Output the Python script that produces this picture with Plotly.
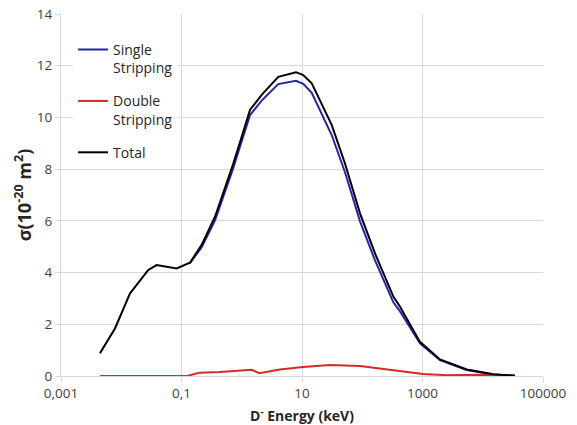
import plotly.graph_objects as go

# Total cross section (black)
total_energy = [0.00443, 0.00787, 0.014, 0.0205, 0.0281, 0.0387, 0.083, 0.138, 0.216, 0.36,
                0.494, 0.724, 0.998, 1.37, 2.14, 4.04, 7.94, 10.5, 14.5, 19.9, 31.1, 51.7,
                91.8, 163, 328, 424, 908, 1950, 5420, 15000, 34300]
total_sigma = [0.88, 1.84, 3.2, 3.71, 4.1, 4.29, 4.16, 4.38, 5.07, 6.16,
               7.06, 8.22, 9.25, 10.29, 10.87, 11.57, 11.75, 11.64, 11.32, 10.67, 9.71, 8.22,
               6.29, 4.74, 3.07, 2.68, 1.32, 0.64, 0.25, 0.07, 0.01]

# Single stripping (blue)
single_energy = [0.138, 0.216, 0.36, 0.494, 0.724, 0.998, 1.37, 2.14, 4.04, 7.94, 10.5, 14.5,
                 19.9, 31.1, 51.7, 91.8, 163, 328, 424, 908, 1950, 5420, 15000, 34300]
single_sigma = [4.36, 4.98, 6.02, 6.92, 8.05, 9.08, 10.09, 10.65, 11.29, 11.42, 11.3, 10.95,
                10.3, 9.32, 7.88, 5.98, 4.47, 2.85, 2.5, 1.26, 0.61, 0.23, 0.06, 0.01]

# Double stripping (red)
double_energy = [0.00443, 0.0281, 0.083, 0.13, 0.1476, 0.2, 0.435, 1.21, 1.46, 1.96, 4.3, 10.4,
                 29, 92, 288, 1019, 2510, 9000, 19300, 34300]
double_sigma = [0.0, 0.0, 0.0, 0.01, 0.05, 0.13, 0.15, 0.25, 0.24, 0.11, 0.25, 0.35,
                0.43, 0.39, 0.23, 0.08, 0.03, 0.05, 0.02, 0.01]

x_tick_vals = [0.001, 0.1, 10, 1000, 100000]
x_tick_text = ["0,001", "0,1", "10", "1000", "100000"]
y_tick_vals = [0, 2, 4, 6, 8, 10, 12, 14]

FONT = "Open Sans"
GRID = "#d9d9d9"

fig = go.Figure()
fig.add_trace(go.Scatter(x=single_energy, y=single_sigma, mode="lines",
                         name="Single<br>Stripping", legendgroup="a",
                         line=dict(color="#2424ac", width=2)))
fig.add_trace(go.Scatter(x=double_energy, y=double_sigma, mode="lines",
                         name="Double<br>Stripping", legendgroup="b",
                         line=dict(color="#d42a2a", width=2)))
fig.add_trace(go.Scatter(x=total_energy, y=total_sigma, mode="lines",
                         name="Total", legendgroup="c",
                         line=dict(color="#000000", width=2)))

fig.update_layout(
    width=577, height=425,
    margin=dict(l=61, r=34, t=14, b=49, autoexpand=False),
    paper_bgcolor="white", plot_bgcolor="white",
    font=dict(family=FONT, size=13, color="#404040"),
    showlegend=True,
    legend=dict(x=0.025, y=0.945, xanchor="left", yanchor="top",
                bgcolor="white", borderwidth=0, valign="top",
                traceorder="grouped", tracegroupgap=12,
                font=dict(family=FONT, size=14, color="#262626")),
    xaxis=dict(type="log", range=[-3, 5], tickvals=x_tick_vals, ticktext=x_tick_text,
               automargin=False,
               showgrid=True, gridcolor=GRID, gridwidth=1,
               showline=True, linecolor=GRID, linewidth=1,
               ticks="outside", ticklen=5, tickcolor=GRID,
               zeroline=False,
               tickfont=dict(family=FONT, size=13.5, color="#404040"),
               title=dict(text="<b>D<sup>-</sup> Energy (keV)</b>", standoff=10,
                          font=dict(family=FONT, size=14, color="#262626"))),
    yaxis=dict(range=[0, 14], tickvals=y_tick_vals,
               automargin=False,
               showgrid=True, gridcolor=GRID, gridwidth=1,
               showline=True, linecolor=GRID, linewidth=1,
               ticks="outside", ticklen=5, tickcolor=GRID,
               zeroline=False,
               tickfont=dict(family=FONT, size=13.5, color="#404040"),
               title=dict(text="<b>σ(10<sup>-20</sup> m<sup>2</sup>)</b>", standoff=0,
                          font=dict(family=FONT, size=18, color="#262626"))),
)

fig.write_html("out.html")
